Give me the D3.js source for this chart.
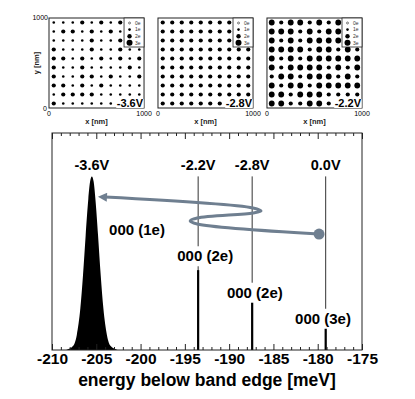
<!DOCTYPE html>
<html lang="en">
<head>
<meta charset="utf-8">
<title>Charge maps and spectrum</title>
<script src="https://d3js.org/d3.v7.min.js"></script>
<style>
  body { margin: 0; background: #fff; }
  text { font-family: "Liberation Sans", Arial, Helvetica, sans-serif; }
</style>
</head>
<body>
<script>
// ---- top maps: electrons per dot on a 10 x 10 grid (rows listed top to bottom)
var voltages = ["-3.6V", "-2.8V", "-2.2V"];
var gridNm = [50, 150, 250, 350, 450, 550, 650, 750, 850, 950];
var legendKeys = ["0e", "1e", "2e", "3e"];

var charges36 = [
  1,1,1,2,1,2,1,2,1,1,
  1,2,2,1,2,1,2,1,1,1,
  1,1,1,1,2,1,1,2,1,1,
  2,1,1,1,2,1,1,2,1,1,
  2,2,1,2,1,2,1,2,1,2,
  2,1,1,2,1,1,1,1,2,1,
  2,1,1,2,2,1,2,1,1,2,
  2,2,1,2,1,2,1,1,1,1,
  1,2,2,2,2,1,1,1,1,1,
  2,1,1,1,1,1,1,1,1,1
];
var charges28 = [
  2,2,2,2,2,2,2,2,2,2,
  2,2,2,2,2,2,2,2,2,2,
  2,2,2,2,2,2,2,2,2,2,
  2,2,2,2,2,2,2,2,2,2,
  2,2,2,2,2,2,2,2,2,2,
  2,2,2,2,2,2,2,2,2,2,
  2,2,2,2,2,2,2,2,2,2,
  2,2,2,2,2,2,2,2,2,2,
  2,2,2,2,2,2,2,2,2,2,
  2,2,2,2,2,2,2,2,2,2
];
var charges22 = [
  3,2,3,3,2,3,2,3,2,2,
  3,3,3,2,3,2,3,3,2,2,
  3,2,3,2,3,3,3,3,2,2,
  3,3,3,3,2,3,3,2,3,2,
  3,2,3,2,3,3,3,3,3,3,
  3,2,3,3,3,3,2,3,2,3,
  2,3,3,2,3,3,3,2,3,2,
  3,2,3,3,2,3,3,3,3,3,
  3,3,2,3,3,3,2,2,2,2,
  3,3,2,2,3,3,2,2,2,2
];
var panelCharges = [charges36, charges28, charges22];

// ---- bottom spectrum
var xTicks = [-210, -205, -200, -195, -190, -185, -180, -175];
var broadE = [-208.4, -207.6, -207.2, -206.8, -206.5, -206.2, -205.9, -205.7, -205.5, -205.3, -205.1, -204.8, -204.5, -204.2, -203.8, -203.4, -202.6];
var broadH = [0, 0.024, 0.087, 0.24, 0.43, 0.66, 0.87, 0.97, 1.0, 0.97, 0.87, 0.66, 0.43, 0.24, 0.087, 0.024, 0];
var lineE = [-193.5, -187.4, -179.1];
var lineH = [0.46, 0.29, 0.13];
var voltLabelE = [-205.5, -193.5, -187.4, -179.1];
var voltLabels = ["-3.6V", "-2.2V", "-2.8V", "0.0V"];
var stateLabels = ["000 (1e)", "000 (2e)", "000 (2e)", "000 (3e)"];
var stateE = [-200.4, -192.7, -187.1, -179.4];
var stateH = [0.69, 0.54, 0.33, 0.18];
var arrowE = [-179.85, -193.6, -194.4, -193.6, -187.3, -186.4, -187.3, -204.0];
var arrowH = [0.668, 0.726, 0.743, 0.760, 0.789, 0.801, 0.818, 0.881];

var width = 415, height = 399;
var svg = d3.select("body").append("svg")
  .attr("width", width)
  .attr("height", height);

// ================= top panels =================
var panelBand = d3.scaleBand().domain(voltages).range([49, 362]).paddingInner(0.128);
var mapTop = 18, mapBottom = 108;
var radius = [1.2, 1.3, 2.1, 2.9];

voltages.forEach(function(v, p) {
  var x0 = panelBand(v), w = panelBand.bandwidth();
  var xs = d3.scaleLinear().domain([0, 1000]).range([x0, x0 + w]);
  var ys = d3.scaleLinear().domain([0, 1000]).range([mapBottom, mapTop]);
  var g = svg.append("g");

  g.append("rect")
    .attr("x", x0).attr("y", mapTop)
    .attr("width", w).attr("height", mapBottom - mapTop)
    .attr("fill", "none").attr("stroke", "#222").attr("stroke-width", 1);

  var cells = [];
  panelCharges[p].forEach(function(c, i) {
    cells.push({ x: gridNm[i % 10], y: gridNm[9 - Math.floor(i / 10)], q: c });
  });
  g.selectAll("circle.dot")
    .data(cells)
    .enter().append("circle")
    .attr("class", "dot")
    .attr("cx", function(d) { return xs(d.x); })
    .attr("cy", function(d) { return ys(d.y); })
    .attr("r", function(d) { return radius[d.q]; })
    .attr("fill", function(d) { return d.q === 0 ? "#fff" : "#000"; })
    .attr("stroke", "#000")
    .attr("stroke-width", function(d) { return d.q === 0 ? 0.5 : 0; });

  // legend
  var lw = 20, lh = 29, lx = x0 + w - lw, ly = mapTop;
  g.append("rect")
    .attr("x", lx).attr("y", ly).attr("width", lw).attr("height", lh)
    .attr("fill", "#fff").attr("stroke", "#222").attr("stroke-width", 0.8);
  var lr = [1.0, 1.3, 2.2, 3.0];
  legendKeys.forEach(function(k, i) {
    var yy = ly + 5 + i * 6.6;
    g.append("circle")
      .attr("cx", lx + 5.5).attr("cy", yy).attr("r", lr[i])
      .attr("fill", i === 0 ? "#fff" : "#000")
      .attr("stroke", "#000").attr("stroke-width", i === 0 ? 0.5 : 0);
    g.append("text")
      .attr("x", lx + 11).attr("y", yy + 1.8)
      .attr("font-size", 5).attr("fill", "#333")
      .text(k);
  });

  // voltage label with white backing
  var vl = g.append("text")
    .attr("x", x0 + w - 1).attr("y", mapBottom - 1)
    .attr("text-anchor", "end")
    .attr("font-size", 11).attr("font-weight", "bold")
    .text(v);
  var bb = vl.node().getBBox();
  g.insert("rect", function() { return vl.node(); })
    .attr("x", bb.x - 0.5).attr("y", bb.y + 2)
    .attr("width", bb.width + 0.5).attr("height", bb.height - 3)
    .attr("fill", "#fff");

  // tick labels
  g.append("text").attr("x", xs(0)).attr("y", mapBottom + 8)
    .attr("text-anchor", "middle").attr("font-size", 7).text("0");
  g.append("text").attr("x", xs(1000)).attr("y", mapBottom + 8)
    .attr("text-anchor", "middle").attr("font-size", 7).text("1000");
  g.append("text").attr("x", (x0 + x0 + w) / 2).attr("y", mapBottom + 16)
    .attr("text-anchor", "middle").attr("font-size", 7.5).attr("font-weight", "bold")
    .attr("fill", "#222").text("x [nm]");

  if (p === 0) {
    g.append("text").attr("x", x0 - 1).attr("y", mapTop + 2)
      .attr("text-anchor", "end").attr("font-size", 7).text("1000");
    g.append("text").attr("x", x0 - 2).attr("y", mapBottom + 3)
      .attr("text-anchor", "end").attr("font-size", 7).text("0");
    g.append("text")
      .attr("transform", "translate(" + (x0 - 10) + "," + ((mapTop + mapBottom) / 2) + ") rotate(-90)")
      .attr("text-anchor", "middle").attr("font-size", 7.5).attr("font-weight", "bold")
      .attr("fill", "#222").text("y [nm]");
  }
});

// ================= spectrum =================
var plotL = 52, plotR = 362, plotT = 133, plotB = 350;
var x = d3.scaleLinear().domain([-210, -175]).range([plotL, plotR]);
var y = d3.scaleLinear().domain([0, 1.25]).range([plotB, plotT]);

// thin marker lines
svg.selectAll("line.marker")
  .data(lineE)
  .enter().append("line")
  .attr("class", "marker")
  .attr("x1", function(d) { return x(d); })
  .attr("x2", function(d) { return x(d); })
  .attr("y1", y(0)).attr("y2", y(1.0))
  .attr("stroke", "#333").attr("stroke-width", 1);

// narrow peaks
svg.selectAll("line.peak")
  .data(lineE)
  .enter().append("line")
  .attr("class", "peak")
  .attr("x1", function(d) { return x(d); })
  .attr("x2", function(d) { return x(d); })
  .attr("y1", y(0))
  .attr("y2", function(d, i) { return y(lineH[i]); })
  .attr("stroke", "#000").attr("stroke-width", 2.2);

// broad peak
var broad = broadE.map(function(e, i) { return [e, broadH[i]]; });
svg.append("path")
  .datum(broad)
  .attr("fill", "#000")
  .attr("d", d3.area()
    .x(function(d) { return x(d[0]); })
    .y0(y(0))
    .y1(function(d) { return y(d[1]); })
    .curve(d3.curveMonotoneX));

// axes box
var minor = d3.range(-210, -174, 1);
svg.append("rect")
  .attr("x", plotL).attr("y", plotT)
  .attr("width", plotR - plotL).attr("height", plotB - plotT)
  .attr("fill", "none").attr("stroke", "#222").attr("stroke-width", 1);

function ticks(yPos, dir) {
  svg.selectAll(null)
    .data(minor)
    .enter().append("line")
    .attr("x1", function(d) { return x(d) + 0.5; })
    .attr("x2", function(d) { return x(d) + 0.5; })
    .attr("y1", yPos)
    .attr("y2", function(d) { return yPos + dir * (xTicks.indexOf(d) >= 0 ? 6 : 3); })
    .attr("stroke", "#222").attr("stroke-width", 1);
}
ticks(plotT, 1);
ticks(plotB, -1);

var xAxis = d3.axisBottom(x).tickValues(xTicks).tickSize(0).tickPadding(3)
  .tickFormat(function(d) { return String(d); });
var gx = svg.append("g").attr("transform", "translate(0," + plotB + ")").call(xAxis);
gx.select(".domain").remove();
gx.selectAll("text")
  .attr("font-size", 15.5).attr("font-weight", "bold").attr("fill", "#000")
  .attr("font-family", "'Liberation Sans', Arial, sans-serif");

svg.append("text")
  .attr("x", (plotL + plotR) / 2).attr("y", 386)
  .attr("text-anchor", "middle")
  .attr("font-size", 17.5).attr("font-weight", "bold")
  .text("energy below band edge [meV]");

// voltage labels above peaks
svg.selectAll("text.volt")
  .data(voltLabels)
  .enter().append("text")
  .attr("class", "volt")
  .attr("x", function(d, i) { return x(voltLabelE[i]); })
  .attr("y", y(1.066) + 5)
  .attr("text-anchor", "middle")
  .attr("font-size", 14.5).attr("font-weight", "bold")
  .text(function(d) { return d; });

// state labels with white backing
stateLabels.forEach(function(s, i) {
  var t = svg.append("text")
    .attr("x", x(stateE[i])).attr("y", y(stateH[i]) + 5)
    .attr("text-anchor", "middle")
    .attr("font-size", 15).attr("font-weight", "bold")
    .text(s);
  var b = t.node().getBBox();
  svg.insert("rect", function() { return t.node(); })
    .attr("x", b.x - 2).attr("y", b.y - 1)
    .attr("width", b.width + 4).attr("height", b.height + 3)
    .attr("fill", "#fff");
});

// arrow annotation
var arrowCol = "#6f7f90";
svg.append("defs").append("marker")
  .attr("id", "head")
  .attr("viewBox", "0 0 10 10")
  .attr("refX", 2).attr("refY", 5)
  .attr("markerWidth", 4).attr("markerHeight", 3)
  .attr("orient", "auto")
  .append("path").attr("d", "M0,0 L10,5 L0,10 Z").attr("fill", arrowCol);

var arrowPts = arrowE.map(function(e, i) { return [x(e), y(arrowH[i])]; });
svg.append("path")
  .datum(arrowPts)
  .attr("fill", "none")
  .attr("stroke", arrowCol).attr("stroke-width", 3)
  .attr("marker-end", "url(#head)")
  .attr("d", d3.line().curve(d3.curveCatmullRom.alpha(0.5)));

svg.append("circle")
  .attr("cx", x(arrowE[0])).attr("cy", y(arrowH[0]))
  .attr("r", 5.5).attr("fill", arrowCol);
</script>
</body>
</html>
